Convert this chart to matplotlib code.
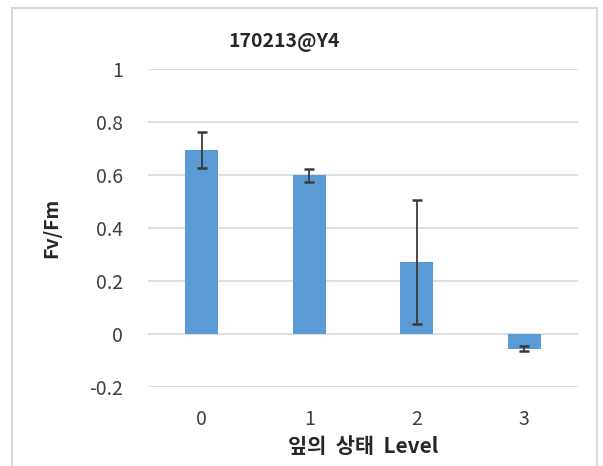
import matplotlib.pyplot as plt
from matplotlib.patches import Rectangle

levels = ['0', '1', '2', '3']
fvfm = [0.694, 0.599, 0.272, -0.055]
err = [0.068, 0.025, 0.235, 0.01]

plt.rcParams['font.family'] = ['Noto Sans CJK KR', 'DejaVu Sans']

fig = plt.figure(figsize=(6.03, 4.66), dpi=100)
# outer chart frame like Excel
fig.patches.append(Rectangle((12 / 603, -0.05), 585 / 603, 1 - 8 / 466 + 0.05,
                             transform=fig.transFigure, fill=False,
                             edgecolor='#d9d9d9', linewidth=1.5))
ax = fig.add_axes([148 / 603, 1 - 387 / 466, 430 / 603, 318 / 466])

x = range(len(levels))
ax.bar(x, fvfm, width=0.31, color='#5b9bd5', zorder=3)
ax.errorbar(x, fvfm, yerr=err, fmt='none', ecolor='#3a3a3a',
            elinewidth=1.3, capsize=3.5, capthick=1.8, zorder=4)

ax.set_xlim(-0.5, 3.5)
ax.set_ylim(-0.2, 1)
ax.set_yticks([-0.2, 0, 0.2, 0.4, 0.6, 0.8, 1])
ax.set_yticklabels(['-0.2', '0', '0.2', '0.4', '0.6', '0.8', '1'])
ax.set_xticks(list(x))
ax.set_xticklabels(levels)
ax.yaxis.grid(True, color='#d9d9d9', linewidth=1.2, zorder=0)
for s in ax.spines.values():
    s.set_visible(False)
ax.tick_params(length=0, labelsize=14, colors='#404040')
ax.tick_params(axis='y', pad=18)
ax.tick_params(axis='x', pad=16)

ax.set_ylabel('Fv/Fm', fontsize=14, fontweight='bold', color='#262626', labelpad=20)
ax.set_xlabel('잎의  상태  Level', fontsize=15, fontweight='bold', color='#262626', labelpad=4)
fig.text(284 / 603, 1 - 43 / 466, '170213@Y4', ha='center', va='center',
         fontsize=14, fontweight='bold', color='#262626')

plt.savefig('out.png', dpi=100)
